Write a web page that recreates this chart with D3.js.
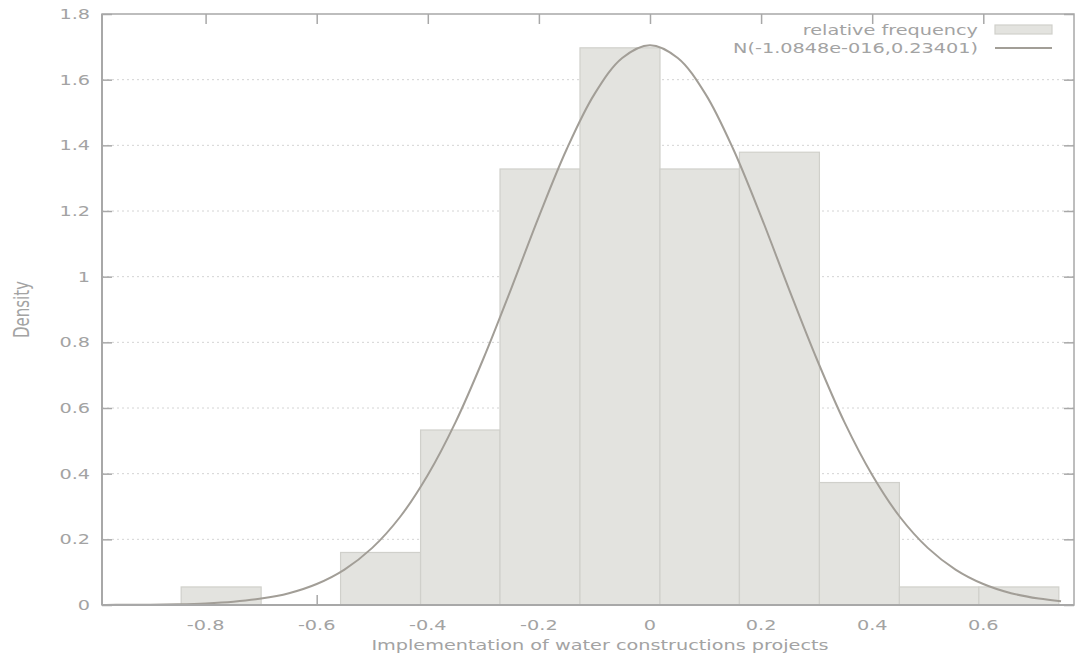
<!DOCTYPE html>
<html>
<head>
<meta charset="utf-8">
<script src="https://cdn.jsdelivr.net/npm/d3@7"></script>
<style>
  body { margin: 0; background: #fff; }
  text { font-family: "DejaVu Sans", Verdana, sans-serif; fill: #a3a3a3; }
</style>
</head>
<body>
<div id="chart"></div>
<script>
// histogram bins (edges) and density of each bin
var binEdges = [-0.844, -0.700, -0.557, -0.413, -0.270, -0.126, 0.018, 0.161, 0.305, 0.449, 0.592, 0.736];
var density = [0.055, 0, 0.160, 0.533, 1.328, 1.697, 1.328, 1.379, 0.373, 0.055, 0.055];

// normal curve points
var curveX = [-0.98, -0.95, -0.9, -0.85, -0.8, -0.75, -0.7, -0.65, -0.6, -0.55, -0.5, -0.45, -0.4, -0.35, -0.3, -0.25, -0.2, -0.15, -0.1, -0.05,
              0, 0.05, 0.1, 0.15, 0.2, 0.25, 0.3, 0.35, 0.4, 0.45, 0.5, 0.55, 0.6, 0.65, 0.7, 0.74];
var curveY = [0.0003, 0.0005, 0.001, 0.0023, 0.0049, 0.010, 0.0195, 0.036, 0.064, 0.108, 0.174, 0.268, 0.396, 0.557, 0.750, 0.963, 1.183, 1.388, 1.556, 1.666,
              1.705, 1.666, 1.556, 1.388, 1.183, 0.963, 0.750, 0.557, 0.396, 0.268, 0.174, 0.108, 0.064, 0.036, 0.0195, 0.0115];

var xTicks = [-0.8, -0.6, -0.4, -0.2, 0, 0.2, 0.4, 0.6];
var yTicks = [0, 0.2, 0.4, 0.6, 0.8, 1, 1.2, 1.4, 1.6, 1.8];
var legendLabels = ["relative frequency", "N(-1.0848e-016,0.23401)"];
var xTitle = "Implementation of water constructions projects";
var yTitle = "Density";

var W = 1075, H = 658;
var margin = {top: 14, right: 1, bottom: 53, left: 102};
var width = W - margin.left - margin.right,
    height = H - margin.top - margin.bottom;
var stretch = 1.375; // the picture is wide, so the text is widened too

var svg = d3.select("#chart").append("svg")
  .attr("width", W)
  .attr("height", H);

var g = svg.append("g")
  .attr("transform", "translate(" + margin.left + "," + margin.top + ")");

var x = d3.scaleLinear().domain([-0.9865, 0.7633]).range([0, width]);
var y = d3.scaleLinear().domain([0, 1.8]).range([height, 0]);

var axisColor = "#a8a8a8";

// dotted grid, behind the bars
g.selectAll(".grid")
  .data(yTicks.filter(function(d) { return d > 0 && d < 1.8; }))
  .enter().append("line")
  .attr("x1", 0).attr("x2", width)
  .attr("y1", function(d) { return y(d); })
  .attr("y2", function(d) { return y(d); })
  .attr("stroke", "#d4d4d4")
  .attr("stroke-width", 1)
  .attr("stroke-dasharray", "2,3");

// ticks on all four sides, pointing inward
var tl = 10;
var yAx = g.append("g").call(d3.axisRight(y).tickValues(yTicks).tickSize(tl).tickFormat(""));
var yAx2 = g.append("g").attr("transform", "translate(" + width + ",0)")
  .call(d3.axisLeft(y).tickValues(yTicks).tickSize(tl).tickFormat(""));
var xAx = g.append("g").attr("transform", "translate(0," + height + ")")
  .call(d3.axisTop(x).tickValues(xTicks).tickSize(tl).tickFormat(""));
var xAx2 = g.append("g")
  .call(d3.axisBottom(x).tickValues(xTicks).tickSize(tl).tickFormat(""));
[yAx, yAx2, xAx, xAx2].forEach(function(a) {
  a.select(".domain").remove();
  a.selectAll("line").attr("stroke", axisColor).attr("stroke-width", 1.5);
});

// bars
var bins = [];
for (var i = 0; i < density.length; i++) {
  if (density[i] > 0) bins.push({x0: binEdges[i], x1: binEdges[i + 1], v: density[i]});
}
g.selectAll(".bar")
  .data(bins)
  .enter().append("rect")
  .attr("x", function(d) { return x(d.x0); })
  .attr("width", function(d) { return x(d.x1) - x(d.x0); })
  .attr("y", function(d) { return y(d.v); })
  .attr("height", function(d) { return y(0) - y(d.v); })
  .attr("fill", "#e3e3df")
  .attr("stroke", "#d0d0cb")
  .attr("stroke-width", 1.2);

// normal curve
var pts = curveX.map(function(d, i) { return [d, curveY[i]]; });
var line = d3.line()
  .x(function(d) { return x(d[0]); })
  .y(function(d) { return y(d[1]); })
  .curve(d3.curveCatmullRom);
g.append("path")
  .datum(pts)
  .attr("fill", "none")
  .attr("stroke", "#a29e97")
  .attr("stroke-width", 2)
  .attr("d", line);

// frame
g.append("rect")
  .attr("width", width).attr("height", height)
  .attr("fill", "none")
  .attr("stroke", axisColor)
  .attr("stroke-width", 1.5);
g.append("line")
  .attr("x1", 0).attr("x2", 0).attr("y1", 0).attr("y2", height)
  .attr("stroke", axisColor).attr("stroke-width", 2);
g.append("line")
  .attr("x1", 0).attr("x2", width).attr("y1", height).attr("y2", height)
  .attr("stroke", axisColor).attr("stroke-width", 2);

// tick labels
g.selectAll(".ylab")
  .data(yTicks)
  .enter().append("text")
  .attr("transform", function(d) { return "translate(-12," + y(d) + ") scale(" + stretch + ",1)"; })
  .attr("text-anchor", "end")
  .attr("dy", "0.36em")
  .style("font-size", "14px")
  .text(function(d) { return d; });

g.selectAll(".xlab")
  .data(xTicks)
  .enter().append("text")
  .attr("transform", function(d) { return "translate(" + x(d) + "," + (height + 20) + ") scale(" + stretch + ",1)"; })
  .attr("text-anchor", "middle")
  .attr("dy", "0.36em")
  .style("font-size", "14px")
  .text(function(d) { return d; });

// axis titles
svg.append("text")
  .attr("transform", "translate(600," + (H - 13) + ") scale(" + stretch + ",1)")
  .attr("text-anchor", "middle")
  .attr("dy", "0.36em")
  .style("font-size", "14px")
  .text(xTitle);

svg.append("text")
  .attr("transform", "translate(22," + (margin.top + height / 2) + ") scale(" + stretch + ",1) rotate(-90)")
  .attr("text-anchor", "middle")
  .attr("dy", "0.36em")
  .style("font-size", "15px")
  .text(yTitle);

// legend
var lg = svg.append("g");
var legY = [30, 48];
legendLabels.forEach(function(t, i) {
  lg.append("text")
    .attr("transform", "translate(978," + legY[i] + ") scale(" + stretch + ",1)")
    .attr("text-anchor", "end")
    .attr("dy", "0.36em")
    .style("font-size", "14px")
    .text(t);
});
lg.append("rect")
  .attr("x", 995).attr("y", legY[0] - 5)
  .attr("width", 57).attr("height", 9)
  .attr("fill", "#e3e3df")
  .attr("stroke", "#d0d0cb")
  .attr("stroke-width", 1.2);
lg.append("line")
  .attr("x1", 995).attr("x2", 1052)
  .attr("y1", legY[1]).attr("y2", legY[1])
  .attr("stroke", "#a29e97")
  .attr("stroke-width", 2);
</script>
</body>
</html>
